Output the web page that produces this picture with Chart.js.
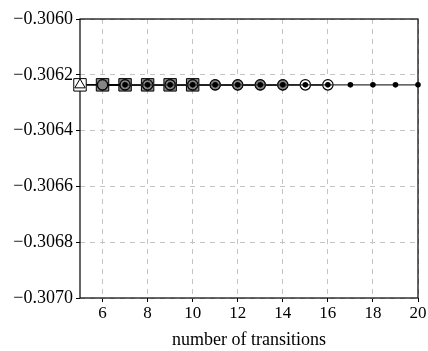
<!DOCTYPE html>
<html>
<head>
<meta charset="utf-8">
<script src="https://cdn.jsdelivr.net/npm/chart.js@4/dist/chart.umd.min.js"></script>
<style>
  html, body { margin: 0; padding: 0; background: #fff; }
  #wrap { width: 428px; height: 351px; }
</style>
</head>
<body>
<div id="wrap"><canvas id="c" width="428" height="351"></canvas></div>
<script>
// Energy estimate versus number of transitions, one run per marker style
const xTriangle = [5];
const yTriangle = [-0.306236];

const xSquares = [5, 6, 7, 8, 9, 10];
const ySquares = [-0.306236, -0.306236, -0.306236, -0.306236, -0.306236, -0.306236];

const xWhiteCircles = [6, 7, 8, 9, 10, 11, 12, 13, 14, 15, 16];
const yWhiteCircles = [-0.306236, -0.306236, -0.306236, -0.306236, -0.306236, -0.306236,
                       -0.306236, -0.306236, -0.306236, -0.306236, -0.306236];

const xGrayCircles = [6, 7, 8, 9, 10, 11, 12, 13, 14];
const yGrayCircles = [-0.306236, -0.306236, -0.306236, -0.306236, -0.306236, -0.306236,
                      -0.306236, -0.306236, -0.306236];

const xDots = [7, 8, 9, 10, 11, 12, 13, 14, 15, 16, 17, 18, 19, 20];
const yDots = [-0.306236, -0.306236, -0.306236, -0.306236, -0.306236, -0.306236, -0.306236,
               -0.306236, -0.306236, -0.306236, -0.306236, -0.306236, -0.306236, -0.306236];

const xTicks = [6, 8, 10, 12, 14, 16, 18, 20];
const yTicks = [-0.3070, -0.3068, -0.3066, -0.3064, -0.3062, -0.3060];

const pts = (xs, ys) => xs.map((x, i) => ({ x: x, y: ys[i] }));
const FONT = "'Liberation Serif', 'DejaVu Serif', serif";

const datasets = [
  { // drawn on top
    data: pts(xDots, yDots), order: 0, clip: false,
    showLine: true, borderColor: '#333', borderWidth: 1.3,
    pointStyle: 'circle', pointRadius: 2.8, pointBackgroundColor: '#000',
    pointBorderColor: '#000', pointBorderWidth: 0
  },
  {
    data: pts(xGrayCircles, yGrayCircles), order: 1, clip: false,
    showLine: true, borderColor: '#000', borderWidth: 1.6,
    pointStyle: 'circle', pointRadius: 5, pointBackgroundColor: '#858585',
    pointBorderColor: '#000', pointBorderWidth: 1
  },
  {
    data: pts(xWhiteCircles, yWhiteCircles), order: 2, clip: false,
    showLine: true, borderColor: '#000', borderWidth: 1.6,
    pointStyle: 'circle', pointRadius: 5.2, pointBackgroundColor: '#fff',
    pointBorderColor: '#000', pointBorderWidth: 1.2
  },
  {
    data: pts(xTriangle, yTriangle), order: 3, clip: false,
    showLine: false,
    pointStyle: 'triangle', pointRadius: 6, pointBackgroundColor: '#fff',
    pointBorderColor: '#000', pointBorderWidth: 1
  },
  { // drawn at the bottom
    data: pts(xSquares, ySquares), order: 4, clip: false,
    showLine: true, borderColor: '#000', borderWidth: 1.6,
    pointStyle: 'rect', pointRadius: 8.8,
    pointBackgroundColor: xSquares.map((x, i) => i === 0 ? '#fff' : '#8a8a8a'),
    pointBorderColor: '#000', pointBorderWidth: 1
  }
];

const gridOpts = {
  color: '#c4c4c4', lineWidth: 1,
  drawTicks: true, tickLength: 4, tickColor: '#000', tickWidth: 1, tickBorderDash: []
};

new Chart(document.getElementById('c'), {
  type: 'scatter',
  data: { datasets: datasets },
  options: {
    responsive: false,
    animation: false,
    events: [],
    layout: { padding: { top: 19, right: 10, left: 0, bottom: 0 } },
    plugins: { legend: { display: false }, tooltip: { enabled: false } },
    scales: {
      x: {
        type: 'linear', min: 5, max: 20,
        afterBuildTicks: (s) => { s.ticks = xTicks.map(v => ({ value: v })); },
        afterFit: (s) => { s.height = 53; },
        border: { display: false, dash: [5, 5] },
        grid: gridOpts,
        ticks: { color: '#000', font: { family: FONT, size: 17 }, padding: 1, maxRotation: 0 },
        title: {
          display: true, text: 'number of transitions', color: '#000',
          font: { family: FONT, size: 18 }, padding: { top: 2, bottom: 0 }
        }
      },
      y: {
        type: 'linear', min: -0.3070, max: -0.3060,
        afterBuildTicks: (s) => { s.ticks = yTicks.map(v => ({ value: v })); },
        afterFit: (s) => { s.width = 80; },
        border: { display: false, dash: [5, 5] },
        grid: gridOpts,
        ticks: {
          color: '#000', font: { family: FONT, size: 18 }, padding: 3,
          callback: (v) => (v < 0 ? '\u2212' : '') + Math.abs(v).toFixed(4)
        }
      }
    }
  },
  plugins: [{
    id: 'frame',
    beforeDatasetsDraw(chart) {
      const a = chart.chartArea, ctx = chart.ctx;
      ctx.save();
      ctx.setLineDash([]);
      ctx.strokeStyle = '#000';
      ctx.lineWidth = 1.2;
      ctx.strokeRect(a.left, a.top, a.right - a.left, a.bottom - a.top);
      ctx.restore();
    }
  }]
});
</script>
</body>
</html>
